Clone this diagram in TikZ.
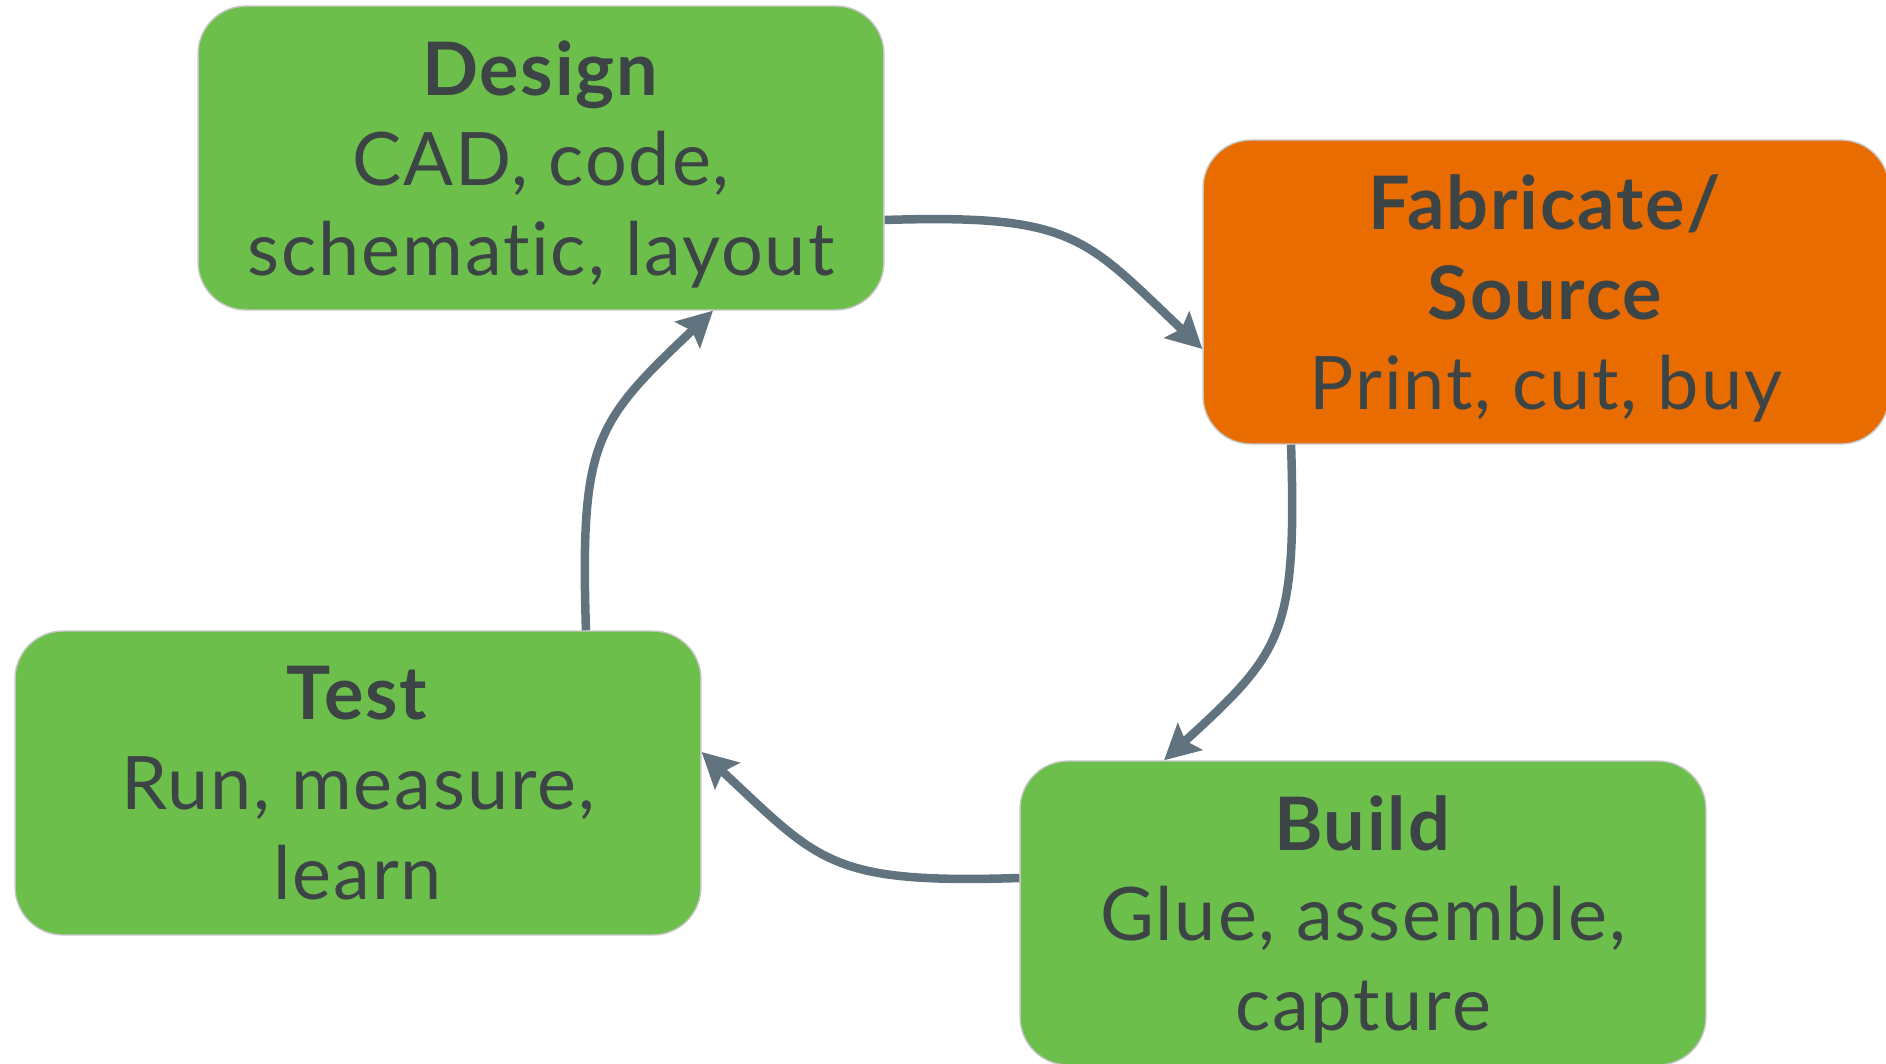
\documentclass[tikz,border=0pt]{standalone}
\usepackage{fontspec}
\setmainfont{Lato}[Ligatures=NoCommon,LetterSpace=2.5]
\usetikzlibrary{arrows.meta}
\definecolor{stepgreen}{HTML}{6DBF4B}
\definecolor{steporange}{HTML}{E96C00}
\definecolor{steptext}{HTML}{3C4446}
\definecolor{flowline}{HTML}{627380}
\tikzset{
  stepbox/.style={draw=gray!45,line width=0.8pt,rounded corners=0.96cm,
    minimum width=13.72cm,minimum height=6.08cm,inner sep=0pt,align=center,
    text depth=-0.05cm,text=steptext,font=\fontsize{42}{51.2}\selectfont},
  flow/.style={draw=flowline,line width=0.17cm,
    -{Stealth[length=0.7cm,width=0.72cm,inset=0.12cm]}}
}
\begin{document}
\begin{tikzpicture}[x=0.02cm,y=-0.02cm,line join=round]
\useasboundingbox (0,0) rectangle (1886,1064);
\node[stepbox,fill=stepgreen] (design) at (541,158) {\textbf{Design}\\CAD, code,\\schematic, layout};
\node[stepbox,fill=steporange] (fab) at (1546,292) {\textbf{Fabricate/}\\\textbf{Source}\\Print, cut, buy};
\node[stepbox,fill=stepgreen] (build) at (1363,913) {\textbf{Build}\\Glue, assemble,\\capture};
\node[stepbox,fill=stepgreen] (test) at (358,783) {\textbf{Test}\\Run, measure,\\learn};
% cycle
\draw[flow] ([yshift=-1.24cm]design.east) .. controls +(190,-6) and +(-118,-112) .. ([yshift=-1.14cm]fab.west);
\draw[flow] ([xshift=-5.1cm]fab.south) .. controls +(6,190) and +(118,-108) .. ([xshift=-3.98cm]build.north);
\draw[flow] ([yshift=0.7cm]build.west) .. controls +(-190,6) and +(118,110) .. ([yshift=0.62cm]test.east);
\draw[flow] ([xshift=4.56cm]test.north) .. controls +(-6,-190) and +(-118,112) .. ([xshift=3.44cm]design.south);
\end{tikzpicture}
\end{document}
